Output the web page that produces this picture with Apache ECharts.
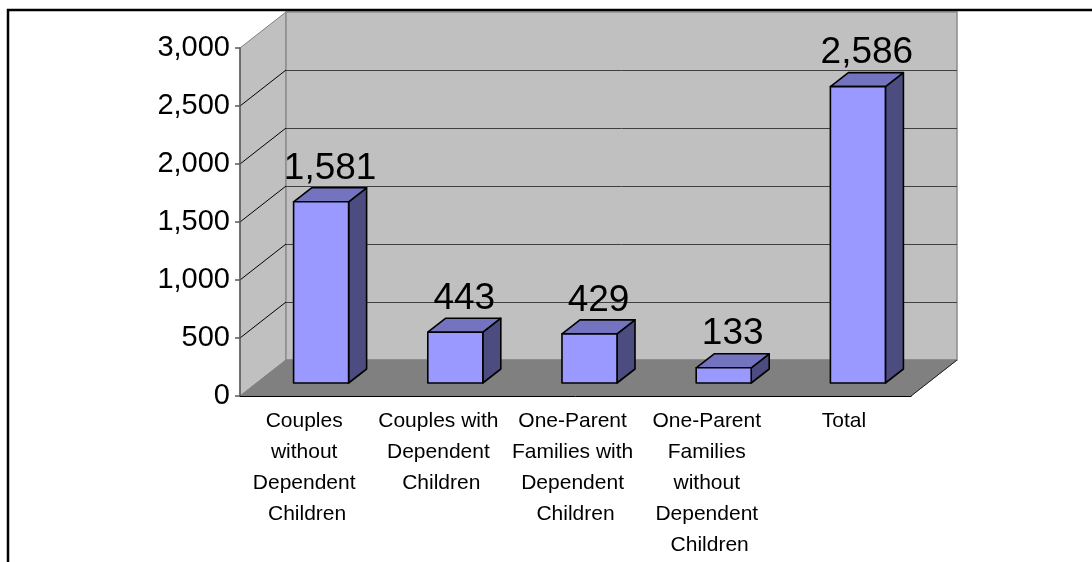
<!DOCTYPE html>
<html>
<head>
<meta charset="utf-8">
<script src="https://cdn.jsdelivr.net/npm/echarts@6/dist/echarts.min.js"></script>
<style>
  html, body { margin: 0; padding: 0; background: #ffffff; }
  #chart { width: 1092px; height: 562px; }
</style>
</head>
<body>
<div id="chart"></div>
<script>
// Household types and counts
const categories = [
  'Couples without Dependent Children',
  'Couples with Dependent Children',
  'One-Parent Families with Dependent Children',
  'One-Parent Families without Dependent Children',
  'Total'
];
const households = [1581, 443, 429, 133, 2586];
const yTicks = [0, 500, 1000, 1500, 2000, 2500, 3000];

// Drawing constants for the oblique 3D look
const FONT = "'Liberation Sans', Arial, sans-serif";
const DEPTH = [46, -36];      // offset from the front plane to the back wall
const BAR_FRONT = [14, -13];  // bar front face, set back from the floor edge
const BAR_SIDE = [18, -14];   // bar depth
const BAR_RATIO = 0.41;       // bar width as share of a category band
const DEPTH_SHRINK = 0.988;   // slight foreshortening of the bars

const fmt = v => v.toLocaleString('en-US');
const crisp = v => Math.round(v) + 0.5;

function renderWalls(params, api) {
  const cs = params.coordSys;
  const x0 = cs.x, x1 = cs.x + cs.width, yT = cs.y, yB = cs.y + cs.height;
  const [dx, dy] = DEPTH;
  const children = [
    // side wall
    { type: 'polygon', shape: { points: [[x0, yT], [x0 + dx, yT + dy], [x0 + dx, yB + dy], [x0, yB]] },
      style: { fill: '#c0c0c0', stroke: '#808080', lineWidth: 1 } },
    // back wall
    { type: 'polygon', shape: { points: [[x0 + dx, yT + dy], [x1 + dx, yT + dy], [x1 + dx, yB + dy], [x0 + dx, yB + dy]] },
      style: { fill: '#c0c0c0', stroke: '#8c8c8c', lineWidth: 1.5 } },
    // floor
    { type: 'polygon', shape: { points: [[x0, yB], [x0 + dx, yB + dy], [x1 + dx, yB + dy], [x1, yB]] },
      style: { fill: '#808080', stroke: '#808080', lineWidth: 1 } },
    // right floor edge
    { type: 'line', shape: { x1: x1, y1: yB, x2: x1 + dx, y2: yB + dy },
      style: { stroke: '#202020', lineWidth: 1 } }
  ];
  const maxV = yTicks[yTicks.length - 1];
  yTicks.forEach(v => {
    if (v <= 0 || v >= maxV) return;
    const y = api.coord([0, v])[1];
    children.push({ type: 'line',
      shape: { x1: x0 + dx, y1: crisp(y + dy), x2: x1 + dx, y2: crisp(y + dy) },
      style: { stroke: '#404040', lineWidth: 1 } });
    children.push({ type: 'line',
      shape: { x1: x0, y1: y, x2: x0 + dx, y2: y + dy },
      style: { stroke: '#000000', lineWidth: 1 } });
  });
  return { type: 'group', children };
}

function renderBar(params, api) {
  const i = api.value(0), v = api.value(1);
  const base = api.coord([i, 0]);
  const top = api.coord([i, v]);
  const band = api.size([1, 0])[0];
  const w = band * BAR_RATIO;
  const h = (base[1] - top[1]) * DEPTH_SHRINK;
  const L = base[0] + BAR_FRONT[0] - w / 2, R = L + w;
  const B = base[1] + BAR_FRONT[1], T = B - h;
  const [sx, sy] = BAR_SIDE;
  const edge = { stroke: '#000000', lineWidth: 1.6, lineJoin: 'round' };
  return {
    type: 'group',
    children: [
      { type: 'polygon', shape: { points: [[R, T], [R + sx, T + sy], [R + sx, B + sy], [R, B]] },
        style: Object.assign({ fill: '#4c4c80' }, edge) },
      { type: 'polygon', shape: { points: [[L, T], [L + sx, T + sy], [R + sx, T + sy], [R, T]] },
        style: Object.assign({ fill: '#7373bf' }, edge) },
      { type: 'polygon', shape: { points: [[L, T], [R, T], [R, B], [L, B]] },
        style: Object.assign({ fill: '#9999ff' }, edge) },
      { type: 'text',
        style: { text: fmt(v), x: (L + R) / 2 + sx / 2, y: T + sy - 1,
                 fill: '#000000', font: '37px ' + FONT, align: 'center', verticalAlign: 'bottom' } }
    ]
  };
}

const chart = echarts.init(document.getElementById('chart'), null, { renderer: 'canvas' });
chart.setOption({
  animation: false,
  backgroundColor: '#ffffff',
  textStyle: { fontFamily: FONT },
  graphic: [{
    type: 'rect', z: 100,
    shape: { x: 8, y: 10, width: 1300, height: 800 },
    style: { fill: 'none', stroke: '#000000', lineWidth: 2.5 }
  }],
  grid: { left: 240, top: 48, width: 671, height: 348, containLabel: false },
  xAxis: {
    type: 'category',
    data: categories,
    z: 10,
    axisLine: { lineStyle: { color: '#000000', width: 1 } },
    axisTick: { length: 7, lineStyle: { color: '#000000' } },
    axisLabel: {
      interval: 0, color: '#000000', fontSize: 21, lineHeight: 31,
      width: 128, overflow: 'break', margin: 10, fontFamily: FONT
    },
    splitLine: { show: false }
  },
  yAxis: {
    type: 'value',
    min: yTicks[0],
    max: yTicks[yTicks.length - 1],
    interval: yTicks[1] - yTicks[0],
    z: 10,
    axisLine: { show: true, lineStyle: { color: '#5a5a5a', width: 1.5 } },
    axisTick: { show: true, length: 5, lineStyle: { color: '#5a5a5a', width: 1.5 } },
    axisLabel: { color: '#000000', fontSize: 29, margin: 10, fontFamily: FONT, formatter: fmt },
    splitLine: { show: false }
  },
  series: [
    { type: 'custom', z: 1, renderItem: renderWalls, data: [[0, 0]], silent: true },
    { type: 'custom', z: 2, renderItem: renderBar,
      encode: { x: 0, y: 1 },
      data: households.map((v, i) => [i, v]) }
  ]
});
</script>
</body>
</html>
